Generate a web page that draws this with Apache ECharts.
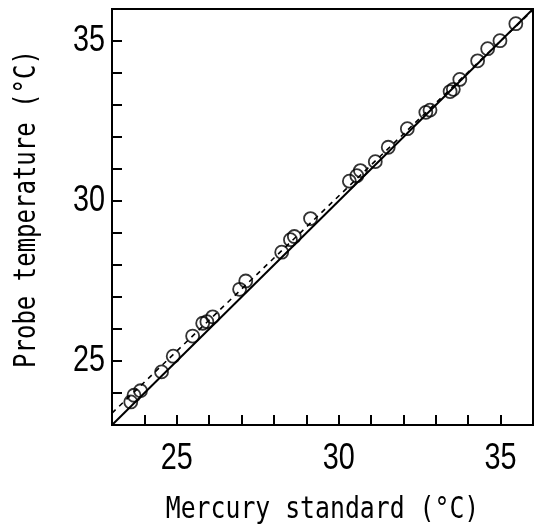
<!DOCTYPE html>
<html>
<head>
<meta charset="utf-8">
<script src="https://cdn.jsdelivr.net/npm/echarts@6/dist/echarts.min.js"></script>
<style>html,body{margin:0;padding:0;background:#fff}#c{width:536px;height:527px}</style>
</head>
<body>
<div id="c"></div>
<script>
// Data
var mercury = [23.58,23.68,23.88,24.53,24.89,25.49,25.80,25.93,26.11,26.94,27.13,28.24,28.51,28.63,29.13,30.33,30.56,30.67,31.13,31.53,32.12,32.69,32.82,33.44,33.54,33.74,34.29,34.60,34.98,35.47];
var probe   = [23.72,23.93,24.07,24.66,25.15,25.78,26.18,26.23,26.38,27.24,27.50,28.40,28.79,28.89,29.45,30.62,30.79,30.95,31.23,31.68,32.26,32.77,32.84,33.42,33.49,33.80,34.38,34.76,35.01,35.54];
var identityX = [23, 36];
var identityY = [23, 36];
var fitX = [23, 36];
var fitY = [23.37, 35.97];
var xTicks = [25, 30, 35];
var yTicks = [25, 30, 35];
var xTitle = 'Mercury standard (°C)';
var yTitle = 'Probe temperature (°C)';

function pairs(a, b) { return a.map(function (v, i) { return [v, b[i]]; }); }

var tickFont = '"Liberation Sans", sans-serif';
var monoFont = '"DejaVu Sans Mono", "Liberation Mono", monospace';

var chart = echarts.init(document.getElementById('c'), null, {renderer: 'canvas'});
chart.setOption({
  animation: false,
  backgroundColor: '#fff',
  grid: {left: 112, right: 3, top: 9, bottom: 102, show: true, borderColor: '#000', borderWidth: 2},
  xAxis: [{
    type: 'value', min: 23, max: 36, interval: 1,
    axisLine: {show: true, lineStyle: {color: '#000', width: 2}},
    axisTick: {show: true, inside: true, length: 10, lineStyle: {color: '#000', width: 2}},
    axisLabel: {show: false},
    splitLine: {show: false}
  }],
  yAxis: [{
    type: 'value', min: 23, max: 36, interval: 1,
    axisLine: {show: true, lineStyle: {color: '#000', width: 2}},
    axisTick: {show: true, inside: true, length: 10, lineStyle: {color: '#000', width: 2}},
    axisLabel: {show: false},
    splitLine: {show: false}
  }],
  series: [
    {
      type: 'line', data: pairs(identityX, identityY), showSymbol: false, symbol: 'none',
      lineStyle: {color: '#000', width: 2}, z: 2
    },
    {
      type: 'line', data: pairs(fitX, fitY), showSymbol: false, symbol: 'none',
      lineStyle: {color: '#000', width: 1.6, type: [5, 5]}, z: 2
    },
    {
      type: 'scatter', data: pairs(mercury, probe), symbol: 'circle', symbolSize: 13,
      itemStyle: {color: 'rgba(0,0,0,0)', borderColor: '#000', borderWidth: 1.8}, z: 3
    }
  ]
});

// Narrow (horizontally condensed) labels positioned through the axis scales
var x0 = chart.convertToPixel({xAxisIndex: 0}, 23);
var x1 = chart.convertToPixel({xAxisIndex: 0}, 36);
var y0 = chart.convertToPixel({yAxisIndex: 0}, 23);
var y1 = chart.convertToPixel({yAxisIndex: 0}, 36);
var g = [];
xTicks.forEach(function (v) {
  g.push({type: 'text', x: chart.convertToPixel({xAxisIndex: 0}, v), y: y0 + 16, scaleX: 0.8,
    style: {text: String(v), fill: '#000', font: '36px ' + tickFont, textAlign: 'center', textVerticalAlign: 'top'}});
});
yTicks.forEach(function (v) {
  g.push({type: 'text', x: x0 - 7, y: chart.convertToPixel({yAxisIndex: 0}, v), scaleX: 0.8,
    style: {text: String(v), fill: '#000', font: '36px ' + tickFont, textAlign: 'right', textVerticalAlign: 'middle'}});
});
g.push({type: 'text', x: (x0 + x1) / 2, y: y0 + 85, scaleX: 0.8,
  style: {text: xTitle, fill: '#000', font: '31px ' + monoFont, textAlign: 'center', textVerticalAlign: 'middle'}});
g.push({type: 'text', x: 27, y: (y0 + y1) / 2 - 8, rotation: Math.PI / 2, scaleX: 0.8,
  style: {text: yTitle, fill: '#000', font: '30px ' + monoFont, textAlign: 'center', textVerticalAlign: 'middle'}});
chart.setOption({graphic: g});
</script>
</body>
</html>
